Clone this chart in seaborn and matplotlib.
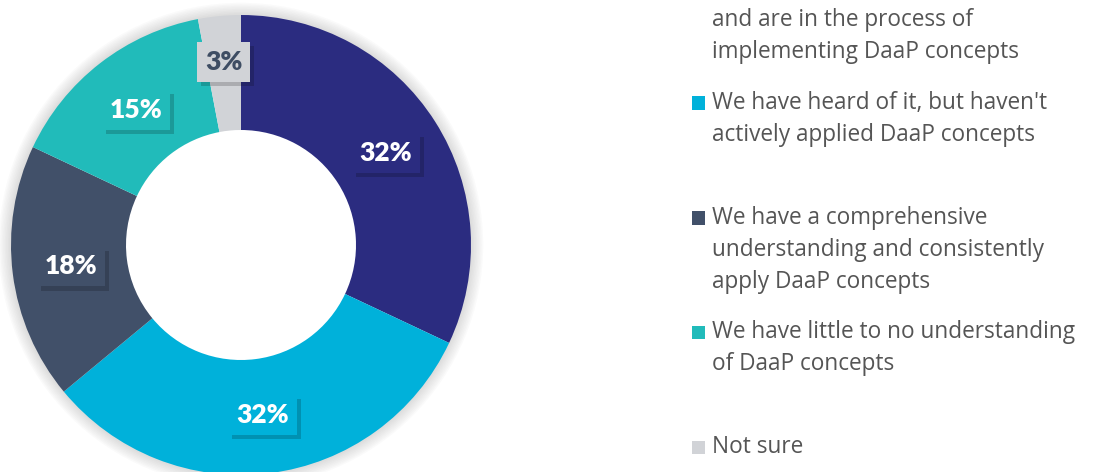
import matplotlib.pyplot as plt
import matplotlib.patheffects as pe
from matplotlib.patches import Rectangle, Circle
import seaborn as sns

# Datos del gráfico
categories = [
    "We have a good understanding\nand are in the process of\nimplementing DaaP concepts",
    "We have heard of it, but haven't\nactively applied DaaP concepts",
    "We have a comprehensive\nunderstanding and consistently\napply DaaP concepts",
    "We have little to no understanding\nof DaaP concepts",
    "Not sure",
]
shares = [32, 32, 18, 15, 3]
colors = ['#2B2C80', '#00B1DA', '#415069', '#21BBBA', '#D1D3D7']
label_colors = ['white', 'white', 'white', 'white', '#3E4D63']

sns.set_theme(style='white')
plt.rcParams['font.family'] = ['Open Sans', 'DejaVu Sans']

fig = plt.figure(figsize=(10.93, 4.72), dpi=100)
ax = fig.add_axes([11 / 1093, -3 / 472, 460 / 1093, 460 / 472])

# sombra suave alrededor del anillo
for k in range(1, 9):
    ax.add_patch(Circle((0, 0), 1.0, fill=False, edgecolor='#777777',
                        lw=k * 2.2, alpha=0.03, zorder=0, clip_on=False))

wedges, _, autotexts = ax.pie(
    shares, colors=colors, startangle=90, counterclock=False,
    wedgeprops=dict(width=0.5, edgecolor='none'),
    autopct=lambda p: f'{p:.0f}%', pctdistance=0.745,
)
ax.set_xlim(-1, 1)
ax.set_ylim(-1, 1)

for t, fc, tc in zip(autotexts, colors, label_colors):
    t.set_color(tc)
    t.set_fontsize(19)
    t.set_fontweight('heavy')
    t.set_family('Lato')
    t.set_bbox(dict(boxstyle='square,pad=0.3', facecolor=fc, edgecolor='none'))
    t.get_bbox_patch().set_path_effects([
        pe.SimplePatchShadow(offset=(3, -3), shadow_rgbFace='black', alpha=0.18),
        pe.Normal(),
    ])
# el 3% un poco más afuera
x, y = autotexts[4].get_position()
autotexts[4].set_position((x * 0.8 / 0.745, y * 0.8 / 0.745))

# Leyenda manual
legend_y = [-12, 103, 218, 332, 447]
for cat, c, ypx in zip(categories, colors, legend_y):
    for i, line in enumerate(cat.split('\n')):
        fig.text(712 / 1093, 1 - (ypx + i * 32) / 472, line, ha='left', va='center',
                 fontsize=16.3, color='#555555')
    fig.patches.append(Rectangle((692 / 1093, 1 - (ypx + 6.5) / 472), 13 / 1093, 13 / 472,
                                 transform=fig.transFigure, facecolor=c, edgecolor='none'))

fig.savefig('out.png', dpi=100, facecolor='white')
